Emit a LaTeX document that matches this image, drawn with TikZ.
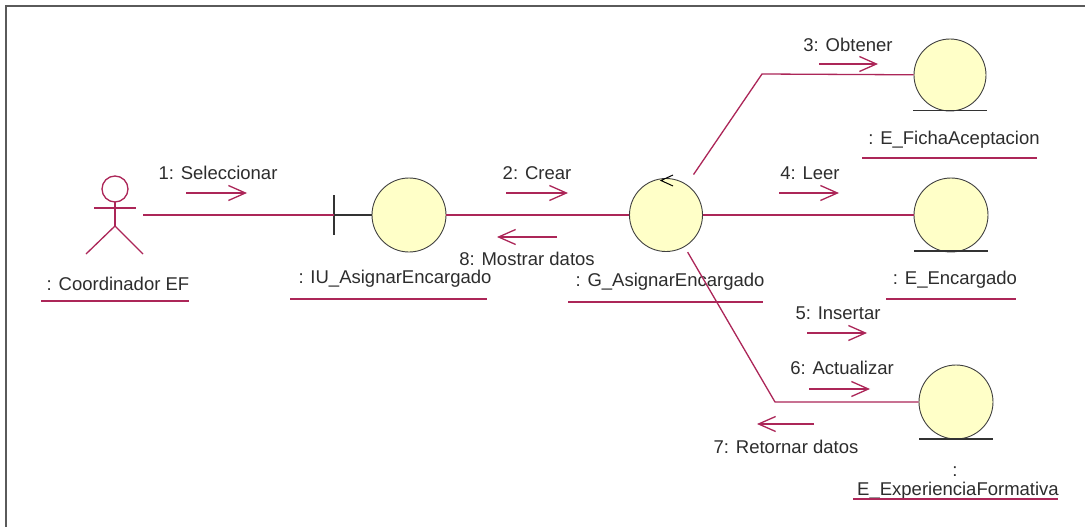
\documentclass[tikz,border=0pt]{standalone}
\usepackage{fontspec}
\setmainfont{Liberation Sans}
\usetikzlibrary{arrows.meta}
\definecolor{crim}{RGB}{172,38,88}
\definecolor{fillc}{RGB}{255,255,200}
\definecolor{txt}{RGB}{45,45,45}
\definecolor{frame}{RGB}{90,90,90}
\tikzset{
  obj/.style={circle,draw=black!75,line width=0.9pt,fill=fillc,inner sep=0pt,minimum size=#1},
  conn/.style={draw=crim,line width=1.3pt},
  msg/.style={draw=crim,line width=1.3pt,-{Straight Barb[length=17pt,width=15pt,line width=1.3pt]}},
  lab/.style={text=txt,inner sep=0pt,font=\fontsize{18.5}{22}\selectfont},
  uline/.style={draw=crim,line width=1.3pt},
}
\begin{document}
\begin{tikzpicture}[x=1pt,y=-1pt]
\useasboundingbox (0,0) rectangle (1085,527);
\fill[white] (0,0) rectangle (1085,527);
% frame
\draw[frame,line width=2pt] (6,527) -- (6,6) -- (1085,6);

% actor
\draw[crim,line width=1.3pt] (115,189) circle (13);
\draw[crim,line width=1.3pt] (115,202) -- (115,226);
\draw[crim,line width=1.3pt] (94,208) -- (136,208);
\draw[crim,line width=1.3pt] (86,254) -- (115,226) -- (143,254);
\coordinate (actorR) at (143,215);
\node[lab] (actorlab) at (118,284) {: Coordinador EF};
\draw[uline] (41,301) -- (189,301);

% boundary IU
\node[obj=74pt] (iu) at (409,215) {};
\coordinate (bar) at (334,215);
\draw[black!80,line width=1.3pt] (334,195) -- (334,235);
\draw[black!80,line width=1.3pt] (bar) -- (iu);
\node[lab] (iulab) at (395,279) {: IU\_AsignarEncargado};
\draw[uline] (290,299) -- (487,299);

% control G
\node[obj=73pt] (g) at (666,215) {};
\draw[black,line width=1pt] (673,175) -- (661,180.5) -- (673,186);
\node[lab] (glab) at (670,282) {: G\_AsignarEncargado};
\draw[uline] (568,302) -- (763,302);

% entities
\node[obj=72pt] (fic) at (950,75) {};
\draw[black!80,line width=1.3pt] (913,110.5) -- (987,110.5);
\node[lab] (ficlab) at (954,140) {: E\_FichaAceptacion};
\draw[uline] (862,158) -- (1037,158);

\node[obj=74pt] (enc) at (951,215) {};
\draw[black!80,line width=1.3pt] (914,251) -- (988,251);
\node[lab] (enclab) at (955,280) {: E\_Encargado};
\draw[uline] (886,299) -- (1016,299);

\node[obj=74pt] (exp) at (956,402) {};
\draw[black!80,line width=1.3pt] (919,439) -- (993,439);
\node[lab] (expcolon) at (955,472) {:};
\node[lab] (explab) at (958,491) {E\_ExperienciaFormativa};
\draw[uline] (853,499) -- (1058,499);

% connectors
\draw[conn] (actorR) -- (bar);
\draw[conn] (iu) -- (g);
\draw[conn] (g) -- (enc);
\coordinate (b1) at (762,74);
\draw[conn,shorten <=12pt] (g) -- (b1) -- (fic);
\coordinate (b2) at (775,402);
\draw[conn,shorten <=6pt] (g) -- (b2) -- (exp);

% messages
\coordinate (m1a) at (186,193); \coordinate (m1b) at (247,193);
\draw[msg] (m1a) -- (m1b);
\node[lab] (m1) at (218,173) {1: Seleccionar};

\coordinate (m2a) at (506,193); \coordinate (m2b) at (568,193);
\draw[msg] (m2a) -- (m2b);
\node[lab] (m2) at (537,173) {2: Crear};

\coordinate (m8a) at (557,237); \coordinate (m8b) at (497,237);
\draw[msg] (m8a) -- (m8b);
\node[lab] (m8) at (527,259) {8: Mostrar datos};

\coordinate (m3a) at (819,64); \coordinate (m3b) at (878,64);
\draw[msg] (m3a) -- (m3b);
\node[lab] (m3) at (848,45) {3: Obtener};

\coordinate (m4a) at (779,193); \coordinate (m4b) at (839,193);
\draw[msg] (m4a) -- (m4b);
\node[lab] (m4) at (810,173) {4: Leer};

\coordinate (m5a) at (807,333); \coordinate (m5b) at (867,333);
\draw[msg] (m5a) -- (m5b);
\node[lab] (m5) at (838,313) {5: Insertar};

\coordinate (m6a) at (809,389); \coordinate (m6b) at (870,389);
\draw[msg] (m6a) -- (m6b);
\node[lab] (m6) at (842,368) {6: Actualizar};

\coordinate (m7a) at (814,424); \coordinate (m7b) at (757,424);
\draw[msg] (m7a) -- (m7b);
\node[lab] (m7) at (786,447) {7: Retornar datos};
\end{tikzpicture}
\end{document}
